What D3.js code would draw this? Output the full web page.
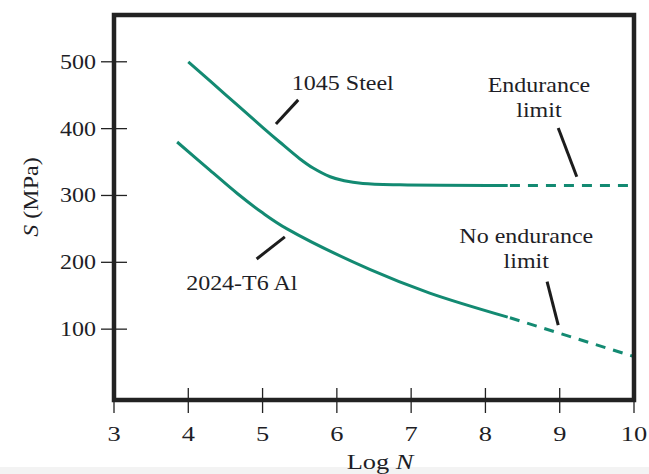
<!DOCTYPE html>
<html>
<head>
<meta charset="utf-8">
<script src="https://d3js.org/d3.v7.min.js"></script>
<style>
  body { margin:0; background:#fff; }
  svg text { font-family: "Liberation Serif", "Times New Roman", serif; fill:#1e1e26; }
</style>
</head>
<body>
<svg id="chart" width="649" height="474"></svg>
<script>

// S-N curves
var xTicks = [3, 4, 5, 6, 7, 8, 9, 10];
var yTicks = [100, 200, 300, 400, 500];

var steelLogN = [4.0, 4.5, 5.0, 5.23, 5.5, 5.68, 5.91, 6.1, 6.35, 6.85, 8.33, 10];
var steelS    = [500, 451, 402, 380, 355, 341, 328, 322, 318, 316, 315, 315];

var alLogN = [3.85, 4.29, 4.66, 5.0, 5.33, 6.45, 7.25, 8.33, 10];
var alS    = [380, 338, 303, 274, 250, 189, 154, 117, 59];

var solidEnd = 8.3; // after this the curves are dashed

var labels = [
  {lines: ["1045 Steel"], x: 6.08, y: 458},
  {lines: ["Endurance", "limit"], x: 8.72, y: 455},
  {lines: ["2024-T6 Al"], x: 4.72, y: 159},
  {lines: ["No endurance", "limit"], x: 8.55, y: 229}
];
var leaders = [
  [5.48, 443, 5.18, 407],
  [8.98, 401, 9.23, 328],
  [5.30, 238, 4.92, 205],
  [8.83, 171, 8.98, 106]
];

var teal = "#138a72";
var ink = "#222";
var fontSize = 20;
var bottomFont = 22;
var stretch = 1.2;

var svg = d3.select("#chart");

var x = d3.scaleLinear().domain([3, 10]).range([114, 634]);
var y = d3.scaleLinear().domain([-6, 570]).range([400, 15]);

// light strip at the very bottom of the scan
svg.append("rect").attr("x", 0).attr("y", 467).attr("width", 649).attr("height", 7).attr("fill", "#f3f3f3");

// text helper, glyphs are a bit wider than Liberation Serif
function addText(g, str, px, py, anchor, size){
  return g.append("text")
      .attr("transform", `translate(${px},${py}) scale(${stretch},1)`)
      .attr("text-anchor", anchor)
      .attr("font-size", size || fontSize)
      .text(str);
}

// ticks crossing the frame
var axes = svg.append("g");
axes.selectAll("line.xt")
    .data(xTicks)
    .enter()
    .append("line")
    .attr("x1", d => x(d)).attr("x2", d => x(d))
    .attr("y1", y.range()[0] - 12).attr("y2", y.range()[0] + 13)
    .attr("stroke", ink).attr("stroke-width", 1.3);
axes.selectAll("line.yt")
    .data(yTicks)
    .enter()
    .append("line")
    .attr("x1", x.range()[0] - 13).attr("x2", x.range()[0] + 13)
    .attr("y1", d => y(d)).attr("y2", d => y(d))
    .attr("stroke", ink).attr("stroke-width", 1.3);

xTicks.forEach(function(t){ addText(axes, t, x(t), 441, "middle", bottomFont); });
yTicks.forEach(function(t){ addText(axes, t, 96, y(t) + 7, "end"); });

// axis titles
var xt = axes.append("text")
    .attr("transform", `translate(380,469) scale(${stretch},1)`)
    .attr("text-anchor", "middle")
    .attr("font-size", bottomFont);
xt.append("tspan").text("Log ");
xt.append("tspan").attr("font-style", "italic").text("N");

var yt = axes.append("text")
    .attr("transform", `translate(38,197) rotate(-90) scale(${stretch},1)`)
    .attr("text-anchor", "middle")
    .attr("font-size", fontSize);
yt.append("tspan").attr("font-style", "italic").text("S");
yt.append("tspan").text(" (MPa)");

// curves
var line = d3.line()
    .x(d => x(d[0]))
    .y(d => y(d[1]))
    .curve(d3.curveCatmullRom.alpha(0.5));

function drawCurve(logN, s){
  var pts = d3.zip(logN, s);
  var solid = pts.filter(d => d[0] <= 8.33);
  var dashed = pts.filter(d => d[0] >= 8.33);
  // dashed part starts a little before the last read point
  var cut = solid[solid.length - 1];
  svg.append("path")
      .attr("d", line(solid.slice(0, -1).concat([[solidEnd, cut[1] + (8.33 - solidEnd) * (dashed[0][1] - dashed[1][1]) / (dashed[1][0] - dashed[0][0])]])))
      .attr("fill", "none")
      .attr("stroke", teal)
      .attr("stroke-width", 3);
  svg.append("path")
      .attr("d", line(dashed))
      .attr("fill", "none")
      .attr("stroke", teal)
      .attr("stroke-width", 3)
      .attr("stroke-dasharray", "10,8");
}
drawCurve(steelLogN, steelS);
drawCurve(alLogN, alS);

// annotations
var notes = svg.append("g");
labels.forEach(function(l){
  l.lines.forEach(function(str, i){
    addText(notes, str, x(l.x), y(l.y) + i * 25, "middle");
  });
});
notes.selectAll("line")
    .data(leaders)
    .enter()
    .append("line")
    .attr("x1", d => x(d[0])).attr("y1", d => y(d[1]))
    .attr("x2", d => x(d[2])).attr("y2", d => y(d[3]))
    .attr("stroke", "#1c1c1c")
    .attr("stroke-width", 3);

// frame
svg.append("rect")
    .attr("x", x.range()[0]).attr("y", y.range()[1])
    .attr("width", x.range()[1] - x.range()[0])
    .attr("height", y.range()[0] - y.range()[1])
    .attr("fill", "none")
    .attr("stroke", ink)
    .attr("stroke-width", 4.5);

</script>
</body>
</html>
